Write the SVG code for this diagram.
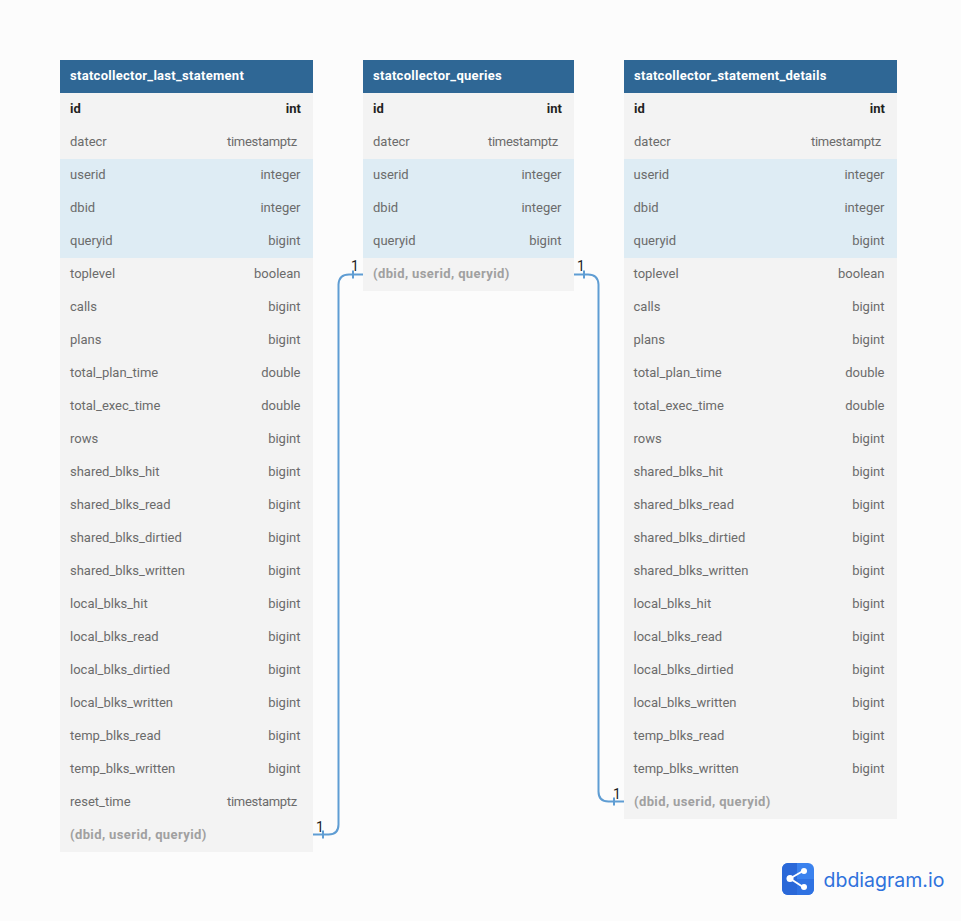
<svg xmlns="http://www.w3.org/2000/svg" width="961" height="921" viewBox="0 0 961 921">
<style>
text{font-family:Roboto,"Liberation Sans",sans-serif;font-size:13px;fill:#6b6b6b}
.h{fill:#2f6795}.b{fill:#f3f3f3}.f{fill:#deecf4}
.t{fill:#fff;font-weight:700;letter-spacing:.29px}
.e{text-anchor:end}
.s{letter-spacing:-.28px}
.p{fill:#1f1f1f;font-weight:700}
.i{fill:#a0a0a0;font-weight:700;letter-spacing:.39px}
.c{fill:none;stroke:#5f9dd3;stroke-width:2}
.n{fill:#222;font-size:14px}
</style>
<rect width="961" height="921" fill="#fcfcfc"/>
<g id="statcollector_last_statement">
<rect class="h" x="60" y="60" width="253" height="33"/><rect class="b" x="60" y="93" width="253" height="759"/><rect class="f" x="60" y="159" width="253" height="99"/>
<text class="t" x="70" y="80">statcollector_last_statement</text>
<text class="p" x="70" y="113">id</text><text class="p e" x="301" y="113">int</text>
<text x="70" y="146">datecr</text><text class="e s" x="297" y="146">timestamptz</text>
<text x="70" y="179">userid</text><text class="e" x="300.500" y="179">integer</text>
<text x="70" y="212">dbid</text><text class="e" x="300.500" y="212">integer</text>
<text x="70" y="245">queryid</text><text class="e" x="300.500" y="245">bigint</text>
<text x="70" y="278">toplevel</text><text class="e" x="300.500" y="278">boolean</text>
<text x="70" y="311">calls</text><text class="e" x="300.500" y="311">bigint</text>
<text x="70" y="344">plans</text><text class="e" x="300.500" y="344">bigint</text>
<text x="70" y="377">total_plan_time</text><text class="e" x="300.500" y="377">double</text>
<text x="70" y="410">total_exec_time</text><text class="e" x="300.500" y="410">double</text>
<text x="70" y="443">rows</text><text class="e" x="300.500" y="443">bigint</text>
<text x="70" y="476">shared_blks_hit</text><text class="e" x="300.500" y="476">bigint</text>
<text x="70" y="509">shared_blks_read</text><text class="e" x="300.500" y="509">bigint</text>
<text x="70" y="542">shared_blks_dirtied</text><text class="e" x="300.500" y="542">bigint</text>
<text x="70" y="575">shared_blks_written</text><text class="e" x="300.500" y="575">bigint</text>
<text x="70" y="608">local_blks_hit</text><text class="e" x="300.500" y="608">bigint</text>
<text x="70" y="641">local_blks_read</text><text class="e" x="300.500" y="641">bigint</text>
<text x="70" y="674">local_blks_dirtied</text><text class="e" x="300.500" y="674">bigint</text>
<text x="70" y="707">local_blks_written</text><text class="e" x="300.500" y="707">bigint</text>
<text x="70" y="740">temp_blks_read</text><text class="e" x="300.500" y="740">bigint</text>
<text x="70" y="773">temp_blks_written</text><text class="e" x="300.500" y="773">bigint</text>
<text x="70" y="806">reset_time</text><text class="e s" x="297" y="806">timestamptz</text>
<text class="i" x="70" y="839">(dbid, userid, queryid)</text>
</g>
<g id="statcollector_queries">
<rect class="h" x="363" y="60" width="211" height="33"/><rect class="b" x="363" y="93" width="211" height="198"/><rect class="f" x="363" y="159" width="211" height="99"/>
<text class="t" x="373" y="80">statcollector_queries</text>
<text class="p" x="373" y="113">id</text><text class="p e" x="562" y="113">int</text>
<text x="373" y="146">datecr</text><text class="e s" x="558" y="146">timestamptz</text>
<text x="373" y="179">userid</text><text class="e" x="561.500" y="179">integer</text>
<text x="373" y="212">dbid</text><text class="e" x="561.500" y="212">integer</text>
<text x="373" y="245">queryid</text><text class="e" x="561.500" y="245">bigint</text>
<text class="i" x="373" y="278">(dbid, userid, queryid)</text>
</g>
<g id="statcollector_statement_details">
<rect class="h" x="624" y="60" width="273" height="33"/><rect class="b" x="624" y="93" width="273" height="726"/><rect class="f" x="624" y="159" width="273" height="99"/>
<text class="t" x="634" y="80">statcollector_statement_details</text>
<text class="p" x="634" y="113">id</text><text class="p e" x="885" y="113">int</text>
<text x="634" y="146">datecr</text><text class="e s" x="881" y="146">timestamptz</text>
<text x="633.500" y="179">userid</text><text class="e" x="884.500" y="179">integer</text>
<text x="633.500" y="212">dbid</text><text class="e" x="884.500" y="212">integer</text>
<text x="633.500" y="245">queryid</text><text class="e" x="884.500" y="245">bigint</text>
<text x="633.500" y="278">toplevel</text><text class="e" x="884.500" y="278">boolean</text>
<text x="633.500" y="311">calls</text><text class="e" x="884.500" y="311">bigint</text>
<text x="633.500" y="344">plans</text><text class="e" x="884.500" y="344">bigint</text>
<text x="633.500" y="377">total_plan_time</text><text class="e" x="884.500" y="377">double</text>
<text x="633.500" y="410">total_exec_time</text><text class="e" x="884.500" y="410">double</text>
<text x="633.500" y="443">rows</text><text class="e" x="884.500" y="443">bigint</text>
<text x="633.500" y="476">shared_blks_hit</text><text class="e" x="884.500" y="476">bigint</text>
<text x="633.500" y="509">shared_blks_read</text><text class="e" x="884.500" y="509">bigint</text>
<text x="633.500" y="542">shared_blks_dirtied</text><text class="e" x="884.500" y="542">bigint</text>
<text x="633.500" y="575">shared_blks_written</text><text class="e" x="884.500" y="575">bigint</text>
<text x="633.500" y="608">local_blks_hit</text><text class="e" x="884.500" y="608">bigint</text>
<text x="633.500" y="641">local_blks_read</text><text class="e" x="884.500" y="641">bigint</text>
<text x="633.500" y="674">local_blks_dirtied</text><text class="e" x="884.500" y="674">bigint</text>
<text x="633.500" y="707">local_blks_written</text><text class="e" x="884.500" y="707">bigint</text>
<text x="633.500" y="740">temp_blks_read</text><text class="e" x="884.500" y="740">bigint</text>
<text x="633.500" y="773">temp_blks_written</text><text class="e" x="884.500" y="773">bigint</text>
<text class="i" x="634" y="806">(dbid, userid, queryid)</text>
</g>
<g id="connectors">
<path class="c" d="M363 274.500H349Q339 274.500 338.500 284.500V824.500Q338.500 834.500 328.500 834.500H313"/>
<path class="c" d="M353 270.500V278.500M323 830.500V838.500"/>
<path class="c" d="M574 274.500H588Q598 274.500 598.500 284.500V791.500Q598.500 801.500 608.500 801.500H624"/>
<path class="c" d="M584 270.500V278.500M614 797.500V805.500"/>
<text class="n" x="351" y="271">1</text>
<text class="n" x="316" y="832">1</text>
<text class="n" x="577" y="271">1</text>
<text class="n" x="613" y="799">1</text>
</g>
<g id="logo">
<rect x="782" y="863" width="32" height="32" rx="6" fill="#3b82ee"/>
<path d="M782 869a6 6 0 0 1 6-6h9v32h-9a6 6 0 0 1-6-6z" fill="#2a68d8"/>
<path d="M797 879h17v10a6 6 0 0 1-6 6h-11z" fill="#2f72e2"/>
<path d="M790 878.500L803 871M790 878.500L803 887" stroke="#fff" stroke-width="2" fill="none"/>
<circle cx="790" cy="878.500" r="3.500" fill="#fff"/><circle cx="804" cy="871" r="3" fill="#fff"/><circle cx="804" cy="887" r="3" fill="#fff"/>
<text x="823.500" y="887" style="font-family:Inter,sans-serif;font-size:19.500px;fill:#2f72dc">dbdiagram.io</text>
</g>
</svg>
